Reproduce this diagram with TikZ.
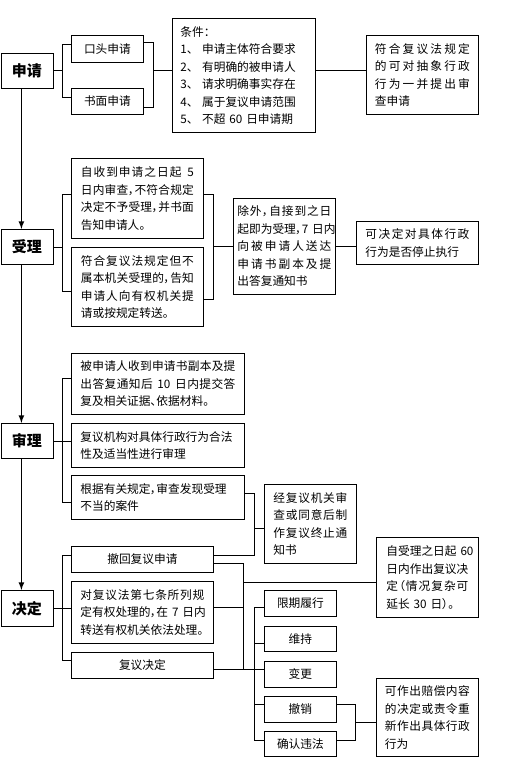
\documentclass[tikz,border=0pt]{standalone}
\usepackage{fontspec}
\setmainfont{Noto Sans CJK SC}[RawFeature=+palt]
\setlength\parindent{0pt}
\newdimen\jlwidth
% one justified line, spread to the box's text width
\ExplSyntaxOn
\NewDocumentCommand\jl{m}{\mode_leave_vertical:\hbox_to_wd:nn{\jlwidth}{\tl_map_inline:nn{#1}{##1\hfil}\unskip}}
\ExplSyntaxOff
\tikzset{
  box/.style={draw, line width=0.8pt, anchor=north west, inner sep=0pt, align=left,
    font=\fontsize{11.7}{17.5}\selectfont},
  stage/.style={box, font=\fontsize{15}{18}\selectfont\bfseries},
  jw/.style={text width=#1pt, /utils/exec={\global\jlwidth=#1pt}},
  spine/.style={line width=1.6pt},
}
\begin{document}
\begin{tikzpicture}[x=1pt,y=-1pt,line width=0.8pt]
    \useasboundingbox[fill=white] (0,0) rectangle (522,757);

    % stages
    \node[stage, minimum width=52, minimum height=35] (sq) at (0.5,53) {申请};
    \node[stage, minimum width=52, minimum height=35] (sl) at (0.5,229) {受理};
    \node[stage, minimum width=52, minimum height=35] (sh) at (0.5,423) {审理};
    \node[stage, minimum width=52, minimum height=36] (jd) at (0.5,590) {决定};
    \draw[spine,-latex] ([xshift=-5.5]sq.south) -- ([xshift=-5.5]sl.north);
    \draw[spine,-latex] ([xshift=-5.5]sl.south) -- ([xshift=-5.5]sh.north);
    \draw[spine,-latex] ([xshift=-5.5]sh.south) -- ([xshift=-5.5]jd.north);

    % shenqing
    \node[box, minimum width=72, minimum height=27] (kt) at (71,35) {口头申请};
    \node[box, minimum width=72, minimum height=26] (sm) at (71,88) {书面申请};
    \node[box, jw=127, minimum width=143, minimum height=114] (tj) at (172,18)
        {条件：\\1、\hspace{0.8em}申请主体符合要求\\2、\hspace{0.8em}有明确的被申请人\\3、\hspace{0.8em}请求明确事实存在\\4、\hspace{0.8em}属于复议申请范围\\5、\hspace{0.8em}不超 60 日申请期};
    \node[box, jw=95, minimum width=112, minimum height=79] (cx) at (366,35)
        {\jl{符合复议法规定}\\\jl{的可对抽象行政}\\\jl{行为一并提出审}\\查申请};
    \draw (sq.east) -- ++(10,0);
    \draw ([yshift=-9]kt.north west) -- ++(-9,0) |- ([yshift=-9]sm.north west);
    \draw ([yshift=-7]kt.north east) -- ++(10,0) |- ([yshift=7]sm.south east);
    \draw ([xshift=10]kt.east |- sq.east) -- (tj.west |- sq.east);
    \draw (tj.east |- sq.east) -- (cx.west |- sq.east);

    % shouli
    \node[box, jw=113, minimum width=132, minimum height=80] (zs) at (71,158)
        {\jl{自收到申请之日起~5}\\\jl{日内审查，不符合规定}\\\jl{决定不予受理，并书面}\\告知申请人。};
    \node[box, jw=113, minimum width=132, minimum height=79] (zf) at (71,247)
        {\jl{符合复议法规定但不}\\\jl{属本机关受理的，告知}\\\jl{申请人向有权机关提}\\请或按规定转送。};
    \node[box, jw=94, minimum width=102, minimum height=96] (cw) at (233,198)
        {\jl{除外，自接到之日}\\\mbox{起即为受理，7 日内}\\\jl{向被申请人送达}\\\jl{申请书副本及提}\\出答复通知书};
    \node[box, jw=104, minimum width=122, minimum height=43] (tz) at (356,221)
        {\jl{可决定对具体行政}\\行为是否停止执行};
    \draw (sl.east) -- ++(10,0);
    \draw ([yshift=4]zs.west) -- ++(-9,0) |- ([yshift=-4]zf.west);
    \draw ([yshift=4]zs.east) -- ++(10,0) |- ([yshift=-12]zf.east);
    \draw (cw.west) -- ++(-20,0);
    \draw (cw.east) -- (tz.west |- cw.east);

    % shenli
    \node[box, jw=155, minimum width=173, minimum height=61] (bs) at (71,353)
        {\jl{被申请人收到申请书副本及提}\\\jl{出答复通知后~{10}~日内提交答}\\复及相关证据、依据材料。};
    \node[box, jw=155, minimum width=173, minimum height=44] (fy) at (71,423)
        {复议机构对具体行政行为合法\\性及适当性进行审理};
    \node[box, jw=155, minimum width=173, minimum height=44] (gj) at (71,475)
        {根据有关规定，审查发现受理\\不当的案件};
    \node[box, jw=74, minimum width=92, minimum height=79] (zz) at (264,484)
        {\jl{经复议机关审}\\\jl{查或同意后制}\\\jl{作复议终止通}\\知书};
    \draw (sh.east) -- (fy.west |- sh.east);
    \draw ([yshift=6]bs.west) -- ++(-9,0) |- ([yshift=-5]gj.west);
    \draw ([yshift=-4]zz.west) -- ++(-10,0);

    % jueding
    \node[box, minimum width=142, minimum height=26] (ch) at (71,546) {撤回复议申请};
    \node[box, jw=124, minimum width=142, minimum height=62] (dq) at (71,581)
        {\jl{对复议法第七条所列规}\\\jl{定有权处理的，在~7~日内}\\转送有权机关依法处理。};
    \node[box, minimum width=142, minimum height=26] (fj) at (71,652) {复议决定};
    \node[box, jw=82, minimum width=102, minimum height=80] (qx) at (376,537)
        {\jl{自受理之日起~{60}}\\\jl{日内作出复议决}\\\jl{定（情况复杂可}\\延长 30 日）。};
    \node[box, minimum width=72, minimum height=26] (r1) at (264,590) {限期履行};
    \node[box, minimum width=72, minimum height=25] (r2) at (264,626) {维持};
    \node[box, minimum width=72, minimum height=26] (r3) at (264,661) {变更};
    \node[box, minimum width=72, minimum height=26] (r4) at (264,696) {撤销};
    \node[box, minimum width=72, minimum height=25] (r5) at (264,731) {确认违法};
    \node[box, jw=85, minimum width=102, minimum height=78] (pc) at (376,678)
        {\jl{可作出赔偿内容}\\\jl{的决定或责令重}\\\jl{新作出具体行政}\\行为};
    \draw ([yshift=4]gj.east) -- ++(10,0) |- ([yshift=4]ch.east);
    \draw (jd.east) -- (dq.west |- jd.east);
    \draw ([yshift=4]ch.west) -- ++(-9,0) |- ([yshift=5]fj.west);
    \draw ([yshift=-4]ch.east) -- ++(30,0) |- ([yshift=-4]fj.east);
    \draw ([yshift=-4]fj.east) -- ++(51,0);
    \draw ([yshift=5]dq.east) -- ++(30,0);
    \draw ([yshift=-5]qx.west) -- ++(-133,0);
    \draw ([yshift=-4]r1.west) -- ++(-10,0) |- ([yshift=4]r5.west);
    \draw ([yshift=-4]r2.west) -- ++(-10,0);
    \draw ([yshift=5]r4.west) -- ++(-10,0);
    \draw ([yshift=5]r4.east) -- ++(19,0) |- ([yshift=4]r5.east);
    \draw ([yshift=-5]pc.west) -- ++(-21,0);
\end{tikzpicture}
\end{document}
